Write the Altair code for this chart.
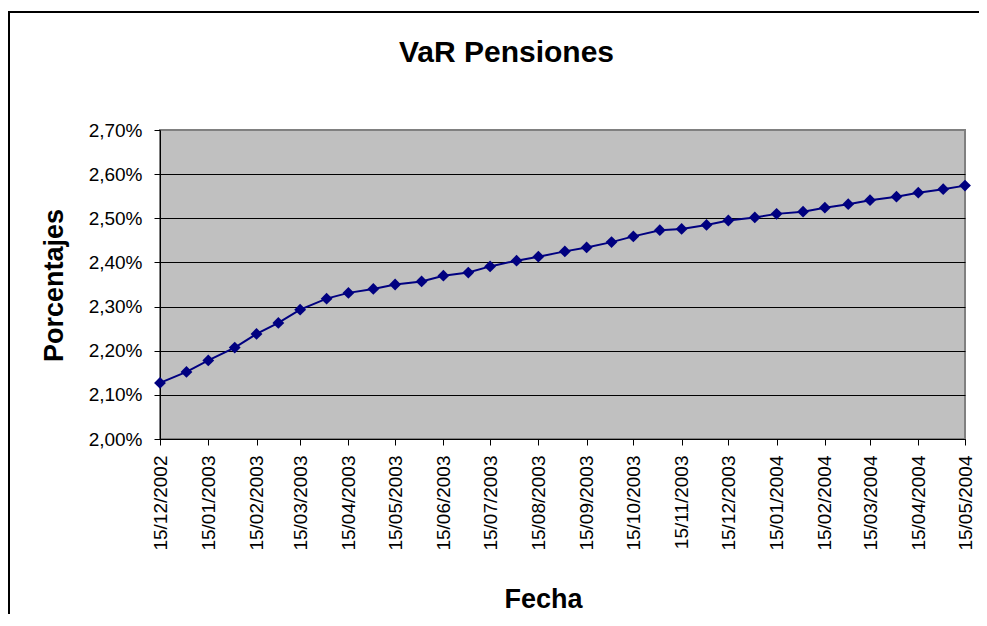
import altair as alt
import pandas as pd

FONT = "Liberation Sans"

# Observation dates (1st and 15th of each month)
dates = [
    "2002-12-15", "2003-01-01", "2003-01-15", "2003-02-01", "2003-02-15",
    "2003-03-01", "2003-03-15", "2003-04-01", "2003-04-15", "2003-05-01",
    "2003-05-15", "2003-06-01", "2003-06-15", "2003-07-01", "2003-07-15",
    "2003-08-01", "2003-08-15", "2003-09-01", "2003-09-15", "2003-10-01",
    "2003-10-15", "2003-11-01", "2003-11-15", "2003-12-01", "2003-12-15",
    "2004-01-01", "2004-01-15", "2004-02-01", "2004-02-15", "2004-03-01",
    "2004-03-15", "2004-04-01", "2004-04-15", "2004-05-01", "2004-05-15",
]

# VaR values in percent
values = [
    2.127, 2.152, 2.178, 2.207, 2.238,
    2.263, 2.293, 2.318, 2.331, 2.340,
    2.350, 2.357, 2.370, 2.377, 2.391,
    2.404, 2.413, 2.425, 2.434, 2.446,
    2.459, 2.473, 2.476, 2.485, 2.495,
    2.502, 2.510, 2.515, 2.524, 2.532,
    2.541, 2.549, 2.558, 2.566, 2.574,
]

# Axis tick values
x_tick_dates = [
    "2002-12-15", "2003-01-15", "2003-02-15", "2003-03-15", "2003-04-15",
    "2003-05-15", "2003-06-15", "2003-07-15", "2003-08-15", "2003-09-15",
    "2003-10-15", "2003-11-15", "2003-12-15", "2004-01-15", "2004-02-15",
    "2004-03-15", "2004-04-15", "2004-05-15",
]
y_ticks = [2.0, 2.1, 2.2, 2.3, 2.4, 2.5, 2.6, 2.7]


def to_dt(s):
    y, m, d = (int(p) for p in s.split("-"))
    return alt.DateTime(year=y, month=m, date=d)


df = pd.DataFrame({"Fecha": [d + "T00:00:00" for d in dates], "VaR": values})

x_axis = alt.Axis(
    values=[to_dt(s) for s in x_tick_dates],
    format="%d/%m/%Y",
    labelAngle=270,
    labelAlign="right",
    labelBaseline="middle",
    labelPadding=10,
    labelFontSize=19,
    labelFont=FONT,
    labelColor="black",
    labelOverlap=False,
    labelFlush=False,
    labelBound=False,
    tickSize=6,
    tickColor="black",
    domainColor="black",
    grid=False,
    title="Fecha",
    titleFont=FONT,
    titleFontSize=27,
    titleFontWeight="bold",
    titleColor="black",
    titleX=383,
    titleY=168,
    titleAlign="center",
    titleBaseline="alphabetic",
)

y_axis = alt.Axis(
    values=y_ticks,
    labelExpr="replace(format(datum.value, '.2f'), '.', ',') + '%'",
    labelFontSize=19,
    labelFont=FONT,
    labelColor="black",
    labelPadding=12,
    tickSize=6,
    tickColor="black",
    domainColor="black",
    grid=True,
    gridColor=alt.condition("datum.value > 2.65", alt.value("#808080"), alt.value("black")),
    gridOpacity=1,
    gridWidth=1,
    title="Porcentajes",
    titleFont=FONT,
    titleFontSize=27,
    titleFontWeight="bold",
    titleColor="black",
    titleAngle=270,
    titleX=-98,
    titleY=155,
    titleAlign="center",
    titleBaseline="alphabetic",
)

line = alt.Chart(df).mark_line(
    color="#000080",
    strokeWidth=2,
    point=alt.OverlayMarkDef(shape="diamond", size=140, filled=True, color="#000080", opacity=1),
).encode(
    x=alt.X("Fecha:T", scale=alt.Scale(domain=[to_dt(dates[0]), to_dt(dates[-1])], nice=False), axis=x_axis),
    y=alt.Y("VaR:Q", scale=alt.Scale(domain=[2.0, 2.7], nice=False, zero=False), axis=y_axis),
)

frame = alt.Chart(pd.DataFrame({"k": [0]})).mark_rect(
    fillOpacity=0, stroke="black", strokeWidth=2, clip=False
).encode(
    x=alt.value(-151), x2=alt.value(1000), y=alt.value(-118), y2=alt.value(700)
)

chart = alt.layer(frame, line).properties(
    width=805,
    height=309,
    autosize=alt.AutoSizeParams(type="none"),
    padding={"left": 152, "top": 122, "right": 14, "bottom": 175},
    title=alt.TitleParams(
        "VaR Pensiones", font=FONT, fontSize=30, fontWeight="bold", color="black",
        anchor="middle", offset=0, dx=-56, dy=57,
    ),
).configure(background="white").configure_view(
    fill="#C0C0C0", stroke="#808080", strokeWidth=2
)

chart.save("out.html", embed_options={"renderer": "svg", "actions": False})
